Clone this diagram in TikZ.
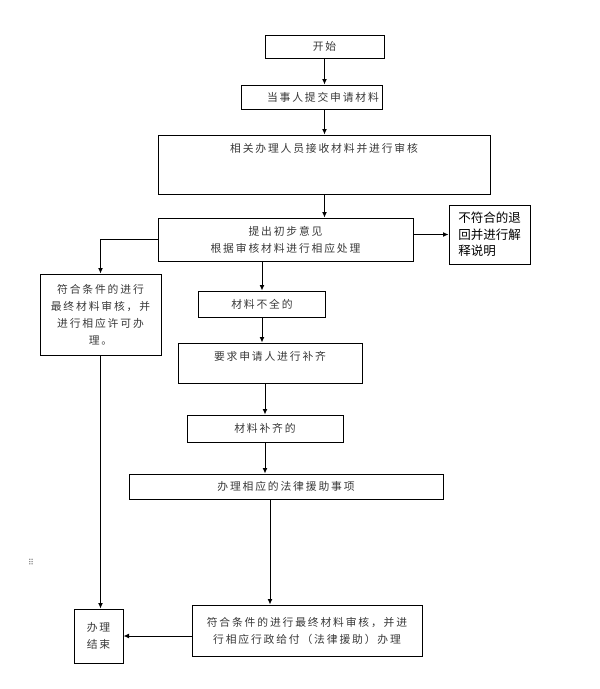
\documentclass[tikz,border=0pt]{standalone}
\usepackage{fontspec}
\newfontfamily\cjk[LetterSpace=17]{Noto Sans CJK SC}
\newfontfamily\cjkb{Noto Sans CJK SC}
\newfontfamily\dotfont{DejaVu Sans}
\usetikzlibrary{arrows.meta}
\tikzset{
  box/.style={draw, line width=1pt, inner sep=0pt, align=center, text=black!78,
    font=\cjk\fontsize{10.8}{17}\selectfont},
  arr/.style={line width=1pt, -{Latex[length=5.5pt,width=5pt]}}
}
\begin{document}
\begin{tikzpicture}[x=1pt,y=-1pt]
            \useasboundingbox (0,0) rectangle (600,689);
            \node[box, minimum width=119, minimum height=23] (A) at (324.5,46.5) {开始};
            \node[box, minimum width=141, minimum height=24] (B) at (312,97) {\hspace*{22pt}当事人提交申请材料};
            \node[box, minimum width=332, text height=12.5, text depth=37.5, inner ysep=4.5] (C) at (324,164.5) {相关办理人员接收材料并进行审核};
            \node[box, minimum width=255, minimum height=43] (D) at (285.5,239.5) {提出初步意见\\根据审核材料进行相应处理};
            \node[box, minimum width=81, minimum height=59, align=left, text=black,
              font=\cjkb\fontsize{12.5}{16.5}\selectfont] (E) at (489.5,234.5) {不符合的退\\回并进行解\\释说明};
            \node[box, minimum width=121, minimum height=81] (F) at (100.5,314.5) {符合条件的进行\\最终材料审核，并\\进行相应许可办\\理。};
            
            \node[box, minimum width=127, minimum height=26] (G) at (262,304) {材料不全的};
            \node[box, minimum width=184, text height=12.5, text depth=18.5, inner ysep=4.5] (H) at (270,363) {要求申请人进行补齐};
            \node[box, minimum width=156, minimum height=27] (I) at (265,428.5) {材料补齐的};
            \node[box, minimum width=314, minimum height=25] (J) at (286,486.5) {办理相应的法律援助事项};
            
            \node[box, minimum width=230, minimum height=51] (K) at (307,630.5) {符合条件的进行最终材料审核，并进\\行相应行政给付（法律援助）办理};
            \node[box, minimum width=49, minimum height=54] (L) at (98.5,636) {办理\\结束};
            
            \node[text=black!55, font=\dotfont\fontsize{8}{8}\selectfont] (Z) at (31,562) {⠿};
            
            \draw[arr] (A.south) -- (A.south |- B.north);
            \draw[arr] (B.south -| A) -- (A |- C.north);
            \draw[arr] (C.south -| A) -- (A |- D.north);
            \draw[arr] (D.east |- E.west) -- (E.west);
            \draw[arr] (D.west) -| (F.north);
            \draw[arr] (D.south -| G) -- (G.north);
            \draw[arr] (G.south) -- (G.south |- H.north);
            \draw[arr] (H.south -| I) -- (I.north);
            \draw[arr] (I.south) -- (I.south |- J.north);
            \draw[arr] (J.south -| H) -- (H |- K.north);
            \draw[arr] (F.south) -- (F.south |- L.north);
            \draw[arr] (K.west |- L) -- (L.east);
          \end{tikzpicture}
\end{document}
